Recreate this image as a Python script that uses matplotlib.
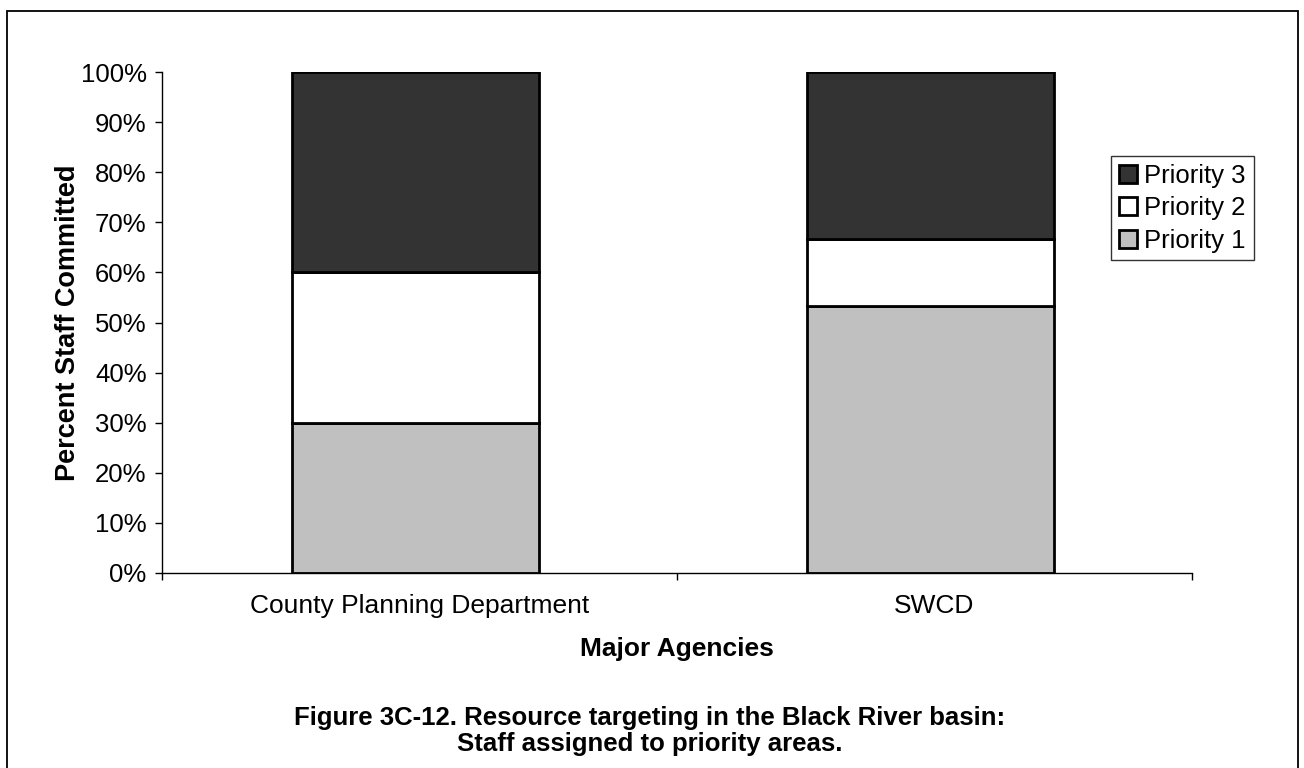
import matplotlib.pyplot as plt
from matplotlib.patches import Rectangle
from matplotlib.ticker import PercentFormatter

# data
agencies = ["County Planning Department", "SWCD"]
priority_1 = [30.0, 53.3]
priority_2 = [30.0, 13.4]
priority_3 = [40.0, 33.3]

series_names = ["Priority 1", "Priority 2", "Priority 3"]
series_colors = ["#c0c0c0", "#ffffff", "#333333"]

plt.rcParams['font.family'] = ['Liberation Sans', 'DejaVu Sans']
fs = 18.5

fig = plt.figure(figsize=(13.04, 7.68), dpi=100)

# outer frame round the whole chart
fig.patches.append(Rectangle((7 / 1304, -0.05), (1298 - 7) / 1304, 1.05 - 11 / 768,
                             transform=fig.transFigure, fill=False,
                             edgecolor="black", linewidth=1.3))

ax = fig.add_axes([162 / 1304, 1 - 573 / 768, (1192 - 162) / 1304, (573 - 72) / 768])

x = list(range(len(agencies)))
xb = [i - 0.008 for i in x]
bottom = [0.0] * len(agencies)
handles = []
for vals, name, col in zip([priority_1, priority_2, priority_3], series_names, series_colors):
    b = ax.bar(xb, vals, width=0.48, bottom=bottom, color=col, edgecolor="black",
               linewidth=2, label=name)
    handles.append(b)
    bottom = [bt + v for bt, v in zip(bottom, vals)]

ax.set_xlim(-0.5, len(agencies) - 0.5)
ax.set_ylim(0, 100)
ax.set_yticks(range(0, 101, 10))
ax.yaxis.set_major_formatter(PercentFormatter(decimals=0))

# category labels sit between ticks at the category boundaries
ax.set_xticks([-0.5, 0.5, 1.5])
ax.set_xticklabels([])
ax.set_xticks(x, minor=True)
ax.set_xticklabels(agencies, minor=True, fontsize=19)
ax.tick_params(axis="x", which="minor", length=0, pad=15)
ax.tick_params(axis="x", which="major", length=5, width=1, direction="out")
ax.tick_params(axis="y", length=5, width=1, direction="out", labelsize=fs, pad=6)

for side in ["top", "right"]:
    ax.spines[side].set_visible(False)
for side in ["left", "bottom"]:
    ax.spines[side].set_linewidth(1)

ax.set_ylabel("Percent Staff Committed", fontsize=19.5, fontweight="bold", labelpad=0)
ax.set_xlabel("Major Agencies", fontsize=19, fontweight="bold", labelpad=14)

leg = fig.legend(handles[::-1], series_names[::-1], loc="upper left",
                 bbox_to_anchor=(1111 / 1304, 1 - 156 / 768), fontsize=fs,
                 frameon=True, fancybox=False, edgecolor="black",
                 handlelength=0.7, handleheight=0.7, handletextpad=0.3,
                 borderpad=0.3, labelspacing=0.33, borderaxespad=0)
leg.get_frame().set_linewidth(1)

fig.text(650 / 1304, 1 - 718 / 768, "Figure 3C-12. Resource targeting in the Black River basin:",
         ha="center", va="center", fontsize=fs, fontweight="bold")
fig.text(650 / 1304, 1 - 744 / 768, "Staff assigned to priority areas.",
         ha="center", va="center", fontsize=fs, fontweight="bold")

fig.savefig("out.png", dpi=100)
